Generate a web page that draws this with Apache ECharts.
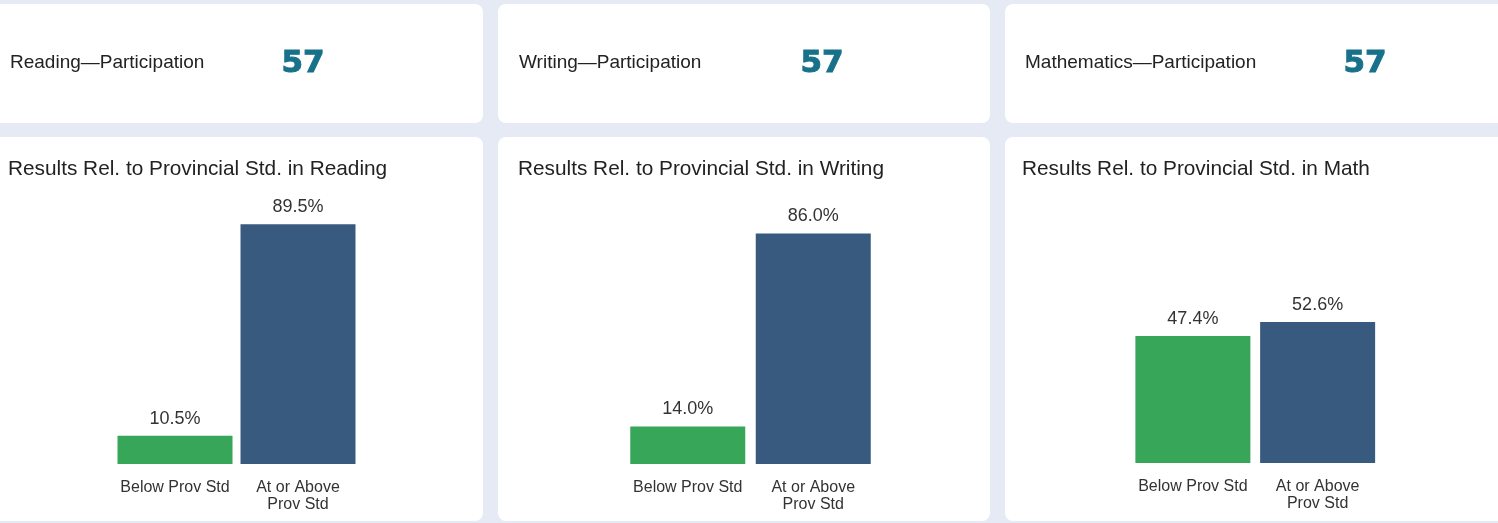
<!DOCTYPE html>
<html>
<head>
<meta charset="utf-8">
<script src="https://cdn.jsdelivr.net/npm/echarts@6/dist/echarts.min.js"></script>
<style>
  html, body { margin: 0; padding: 0; background: #e5eaf4; }
  #main { width: 1498px; height: 523px; }
</style>
</head>
<body>
<div id="main"></div>
<script>
const categories = ['Below Prov Std', 'At or Above\nProv Std'];
const readingValues = [10.5, 89.5];
const writingValues = [14.0, 86.0];
const mathValues = [47.4, 52.6];
const participationLabels = ['Reading\u2014Participation', 'Writing\u2014Participation', 'Mathematics\u2014Participation'];
const participationCounts = [57, 57, 57];
const chartTitles = ['Results Rel. to Provincial Std. in Reading', 'Results Rel. to Provincial Std. in Writing', 'Results Rel. to Provincial Std. in Math'];
const seriesValues = [readingValues, writingValues, mathValues];

const FONT = 'Arial, "Liberation Sans", sans-serif';
const NUMFONT = '"DejaVu Sans", Verdana, sans-serif';
const barColors = ['#37a658', '#375a7e'];

const chart = echarts.init(document.getElementById('main'), null, { renderer: 'canvas' });

const cardX = [[-12, 483], [498, 990], [1005, 1510]];
const labelX = [10, 519, 1025];
const countX = [303, 822, 1365];
const titleX = [8, 518, 1022];
const grids = [
  { left: 113.5, width: 246, top: 196, height: 268 },
  { left: 625, width: 251, top: 196, height: 268 },
  { left: 1130.5, width: 249.5, top: 195, height: 268 }
];

const graphic = [];
cardX.forEach(function (c, i) {
  graphic.push({ type: 'rect', z: -10, shape: { x: c[0], y: 4, width: c[1] - c[0], height: 119, r: 8 }, style: { fill: '#ffffff' } });
  graphic.push({ type: 'rect', z: -10, shape: { x: c[0], y: 137, width: c[1] - c[0], height: 384, r: 8 }, style: { fill: '#ffffff' } });
  graphic.push({ type: 'text', z: 10, style: { text: participationLabels[i], x: labelX[i], y: 63, font: '19px ' + FONT, fill: '#222222', textVerticalAlign: 'middle' } });
  graphic.push({ type: 'text', z: 10, style: { text: String(participationCounts[i]), x: countX[i], y: 64, font: 'bold 31px ' + NUMFONT, fill: '#18718a', stroke: '#18718a', lineWidth: 1, textAlign: 'center', textVerticalAlign: 'middle' } });
  graphic.push({ type: 'text', z: 10, style: { text: chartTitles[i], x: titleX[i], y: 169, font: '20.8px ' + FONT, fill: '#222222', textVerticalAlign: 'middle' } });
});

const option = {
  backgroundColor: '#e5eaf4',
  animation: false,
  graphic: graphic,
  grid: grids.map(function (g) { return Object.assign({ containLabel: false }, g); }),
  xAxis: grids.map(function (g, i) {
    return {
      type: 'category', gridIndex: i, data: categories,
      axisLine: { show: false }, axisTick: { show: false }, splitLine: { show: false },
      axisLabel: { fontFamily: FONT, fontSize: 16, lineHeight: 17, color: '#333333', margin: 15, interval: 0 }
    };
  }),
  yAxis: grids.map(function (g, i) {
    return { type: 'value', gridIndex: i, min: 0, max: 100, show: false, splitLine: { show: false } };
  }),
  series: seriesValues.map(function (vals, i) {
    return {
      type: 'bar', xAxisIndex: i, yAxisIndex: i, barWidth: 115,
      data: vals.map(function (v, j) { return { value: v, itemStyle: { color: barColors[j] } }; }),
      label: {
        show: true, position: 'top', distance: 8,
        fontFamily: FONT, fontSize: 18, color: '#333333',
        formatter: function (p) { return p.value.toFixed(1) + '%'; }
      }
    };
  })
};
chart.setOption(option);
</script>
</body>
</html>
